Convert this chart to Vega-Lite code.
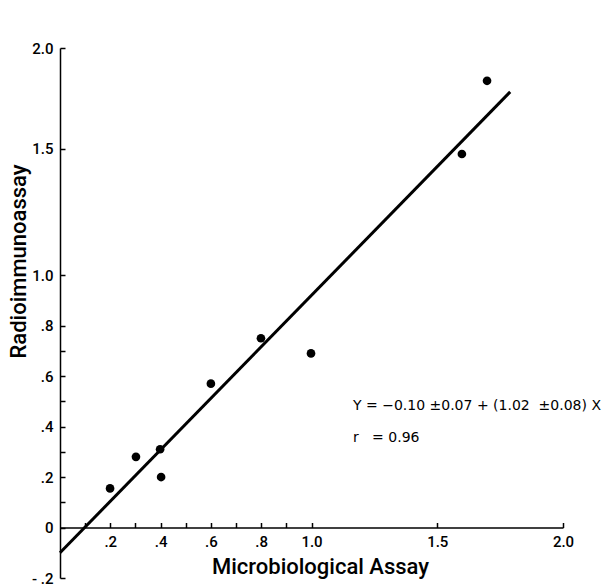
{
  "$schema": "https://vega.github.io/schema/vega-lite/v6.json",
  "width": 503,
  "height": 530,
  "autosize": {"type": "none"},
  "padding": {"left": 60, "top": 48, "right": 39, "bottom": 6},
  "background": "white",
  "config": {
    "view": {"stroke": null},
    "font": "Roboto",
    "axis": {
      "grid": false,
      "domainColor": "black",
      "domainWidth": 1.5,
      "tickColor": "black",
      "tickWidth": 1.5,
      "labelColor": "black",
      "titleColor": "black",
      "labelFont": "Roboto",
      "titleFont": "Roboto",
      "labelFontWeight": 500,
      "titleFontWeight": 500
    }
  },
  "datasets": {
    "points": [
      {"micro": 0.199, "radio": 0.155},
      {"micro": 0.302, "radio": 0.28},
      {"micro": 0.398, "radio": 0.31},
      {"micro": 0.402, "radio": 0.2},
      {"micro": 0.6, "radio": 0.57},
      {"micro": 0.799, "radio": 0.75},
      {"micro": 0.998, "radio": 0.69},
      {"micro": 1.598, "radio": 1.48},
      {"micro": 1.698, "radio": 1.77}
    ],
    "fit": [
      {"micro": 0.0, "radio": -0.1},
      {"micro": 1.79, "radio": 1.726}
    ],
    "notes": [
      {"micro": 1.165, "radio": 0.483, "label": "Y = −0.10 ±0.07 + (1.02\u00a0 ±0.08) X"},
      {"micro": 1.165, "radio": 0.356, "label": "r\u00a0\u00a0 = 0.96"}
    ]
  },
  "layer": [
    {
      "data": {"name": "points"},
      "mark": {"type": "circle", "size": 75, "color": "black", "opacity": 1},
      "encoding": {
        "x": {
          "field": "micro",
          "type": "quantitative",
          "scale": {"domain": [0, 2.0], "nice": false, "zero": false},
          "axis": {
            "title": "Microbiological Assay",
            "offset": -50.5,
            "values": [0.1, 0.2, 0.3, 0.4, 0.5, 0.6, 0.7, 0.8, 0.9, 1.0, 1.5, 2.0],
            "labelExpr": "datum.value == 0.2 ? '.2' : datum.value == 0.4 ? '.4' : datum.value == 0.6 ? '.6' : datum.value == 0.8 ? '.8' : datum.value == 1 ? '1.0' : datum.value == 1.5 ? '1.5' : datum.value == 2 ? '2.0' : ''",
            "tickSize": -5,
            "labelPadding": 12,
            "labelFontSize": 15,
            "labelFlush": false,
            "titleFontSize": 22,
            "titleX": 260,
            "titleY": 29,
            "titleAlign": "center",
            "titleBaseline": "top"
          }
        },
        "y": {
          "field": "radio",
          "type": "quantitative",
          "scale": {"domain": [-0.2, 1.9], "nice": false, "zero": false},
          "axis": {
            "title": "Radioimmunoassay",
            "values": [-0.2, 0, 0.1, 0.2, 0.3, 0.4, 0.5, 0.6, 0.7, 0.8, 1.0, 1.5, 1.9],
            "labelExpr": "datum.value == -0.2 ? '- .2' : datum.value == 0 ? '0' : datum.value == 0.2 ? '.2' : datum.value == 0.4 ? '.4' : datum.value == 0.6 ? '.6' : datum.value == 0.8 ? '.8' : datum.value == 1 ? '1.0' : datum.value == 1.5 ? '1.5' : datum.value == 1.9 ? '2.0' : ''",
            "tickSize": -5,
            "labelPadding": 12,
            "labelFontSize": 15,
            "labelFlush": false,
            "titleFontSize": 22,
            "titleX": -42,
            "titleY": 213,
            "titleAngle": -90,
            "titleAlign": "center",
            "titleBaseline": "middle"
          }
        }
      }
    },
    {
      "data": {"name": "fit"},
      "mark": {"type": "line", "color": "black", "strokeWidth": 3},
      "encoding": {
        "x": {"field": "micro", "type": "quantitative"},
        "y": {"field": "radio", "type": "quantitative"}
      }
    },
    {
      "data": {"name": "notes"},
      "mark": {"type": "text", "align": "left", "baseline": "middle", "font": "DejaVu Sans", "fontSize": 14, "color": "black"},
      "encoding": {
        "x": {"field": "micro", "type": "quantitative"},
        "y": {"field": "radio", "type": "quantitative"},
        "text": {"field": "label"}
      }
    }
  ]
}
